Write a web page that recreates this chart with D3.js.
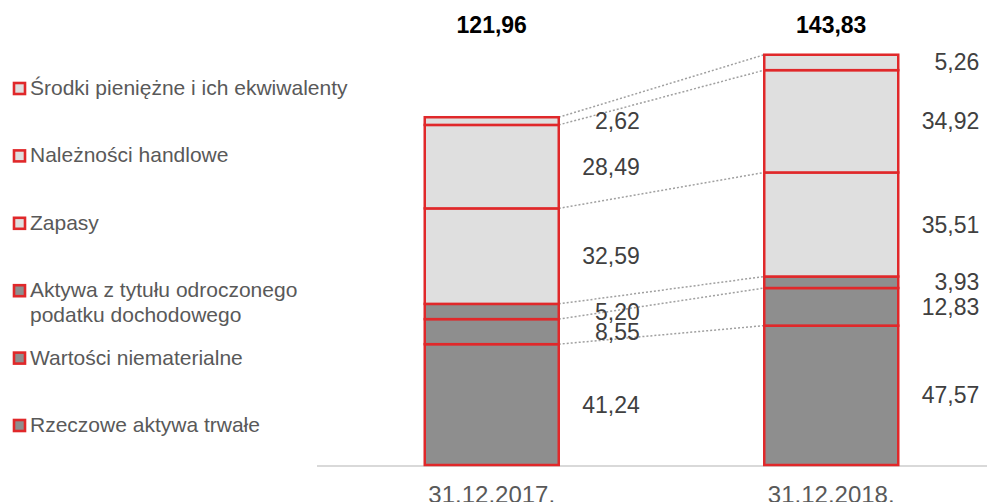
<!DOCTYPE html>
<html>
<head>
<meta charset="utf-8">
<script src="https://cdn.jsdelivr.net/npm/d3@7"></script>
<style>
  body { margin: 0; background: #fff; }
  svg { display: block; font-family: "Liberation Sans", Arial, sans-serif; }
</style>
</head>
<body>
<svg width="987" height="502"></svg>
<script>
// categories and series (bottom of the stack first)
var dates = ["31.12.2017.", "31.12.2018."];
var totals = ["121,96", "143,83"];
var seriesNames = [
  "Rzeczowe aktywa trwałe",
  "Wartości niematerialne",
  "Aktywa z tytułu odroczonego|podatku dochodowego",
  "Zapasy",
  "Należności handlowe",
  "Środki pieniężne i ich ekwiwalenty"
];
var values2017 = [41.24, 8.55, 5.20, 32.59, 28.49, 2.62];
var values2018 = [47.57, 12.83, 3.93, 35.51, 34.92, 5.26];
var seriesDark = [true, true, true, false, false, false];

var svg = d3.select("svg"),
    baseY = 465;

var red = "#e0282a",
    darkFill = "#8e8e8e",
    lightFill = "#dfdfdf";

var x = d3.scalePoint().domain(dates).range([322, 1001]).padding(0.5);
var y = d3.scaleLinear().domain([0, 150]).range([baseY, baseY - 150 * 2.93]);
var barW = 134;

var fmt = function(v) { return v.toFixed(2).replace(".", ","); };

// build stacks
var allVals = [values2017, values2018];
var stacks = allVals.map(function(vals, ci) {
  var cum = 0;
  return vals.map(function(v, si) {
    var seg = {cat: dates[ci], series: si, v: v, y0: cum, y1: cum + v};
    cum += v;
    return seg;
  });
});

// axis line
svg.append("line")
  .attr("x1", 317).attr("x2", 987)
  .attr("y1", baseY + 1).attr("y2", baseY + 1)
  .attr("stroke", "#d9d9d9").attr("stroke-width", 2);

// dotted connectors between segment tops
var conn = svg.append("g");
stacks[0].forEach(function(seg, i) {
  var seg2 = stacks[1][i];
  conn.append("line")
    .attr("x1", x(dates[0]) + barW / 2)
    .attr("y1", y(seg.y1))
    .attr("x2", x(dates[1]) - barW / 2)
    .attr("y2", y(seg2.y1))
    .attr("stroke", "#a0a0a0")
    .attr("stroke-width", 1.5)
    .attr("stroke-dasharray", "2,2");
});

// bars
stacks.forEach(function(stack) {
  svg.append("g").selectAll("rect")
    .data(stack)
    .join("rect")
      .attr("x", function(d) { return x(d.cat) - barW / 2; })
      .attr("y", function(d) { return y(d.y1); })
      .attr("width", barW)
      .attr("height", function(d) { return y(d.y0) - y(d.y1); })
      .attr("fill", function(d) { return seriesDark[d.series] ? darkFill : lightFill; })
      .attr("stroke", red)
      .attr("stroke-width", 2.5);

  // value labels
  svg.append("g").selectAll("text")
    .data(stack)
    .join("text")
      .attr("x", function(d) { return x(d.cat) + barW / 2 + 81; })
      .attr("y", function(d) { return y((d.y0 + d.y1) / 2); })
      .attr("dy", "0.35em")
      .attr("text-anchor", "end")
      .attr("font-size", 23)
      .attr("fill", "#404040")
      .text(function(d) { return fmt(d.v); });
});

// totals
svg.append("g").selectAll("text")
  .data(dates)
  .join("text")
    .attr("x", function(d) { return x(d); })
    .attr("y", 33)
    .attr("text-anchor", "middle")
    .attr("font-size", 23)
    .attr("font-weight", "bold")
    .attr("fill", "#000")
    .text(function(d, i) { return totals[i]; });

// category labels
svg.append("g").selectAll("text")
  .data(dates)
  .join("text")
    .attr("x", function(d) { return x(d); })
    .attr("y", 503)
    .attr("text-anchor", "middle")
    .attr("font-size", 24)
    .attr("fill", "#595959")
    .text(function(d) { return d; });

// legend (top = last series)
var legend = svg.append("g");
var legendOrder = d3.range(seriesNames.length).reverse();
legendOrder.forEach(function(si, i) {
  var by = 95 + i * 67.4;
  legend.append("rect")
    .attr("x", 14).attr("y", by - 12)
    .attr("width", 11).attr("height", 11)
    .attr("fill", seriesDark[si] ? darkFill : lightFill)
    .attr("stroke", red).attr("stroke-width", 2.6);
  var t = legend.append("text")
    .attr("x", 30).attr("y", by)
    .attr("font-size", 21)
    .attr("fill", "#595959");
  seriesNames[si].split("|").forEach(function(line, li) {
    t.append("tspan").attr("x", 30).attr("dy", li === 0 ? 0 : 25).text(line);
  });
});
</script>
</body>
</html>
